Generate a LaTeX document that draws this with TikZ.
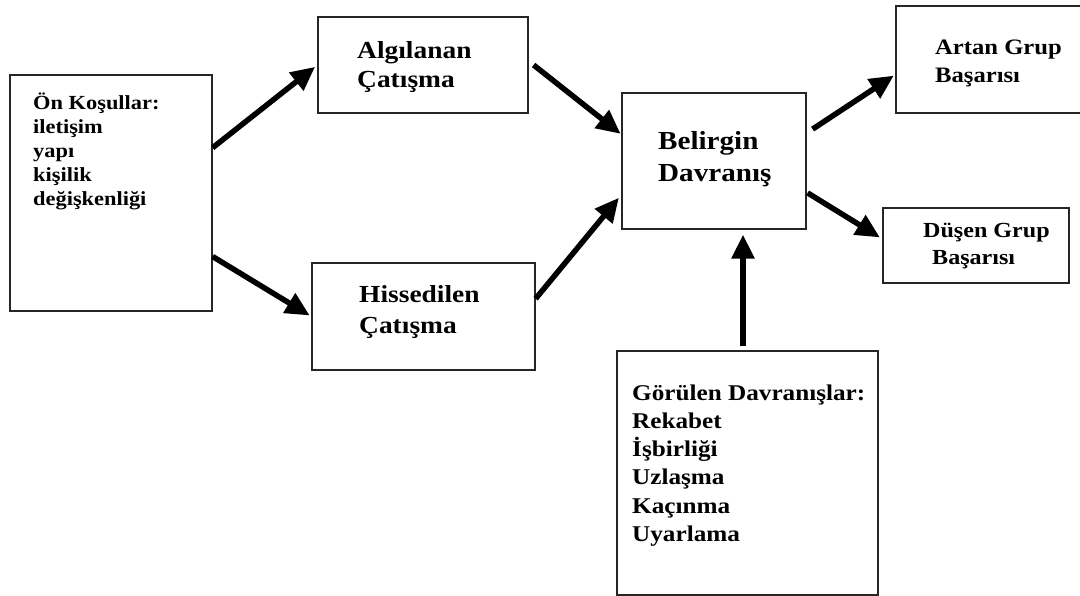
\documentclass[tikz,border=0pt]{standalone}
\usepackage{fontspec}
\setmainfont{Liberation Serif}[FakeStretch=1.12]
\usetikzlibrary{arrows.meta}
\newcommand\fsz[2]{\fontsize{#1}{#2}\selectfont\bfseries}

\begin{document}
\begin{tikzpicture}[x=1pt,y=-1pt,
box/.style={draw=black!85,line width=1.2pt,inner sep=0pt},
txt/.style={align=left,inner sep=0pt,anchor=base west},
flow/.style={line width=5.5pt,-{Triangle[length=24pt,width=22pt]}}]
\useasboundingbox (0,0) rectangle (1080,596);
\node[box,minimum width=202,minimum height=236] (cond) at (111,193) {};
\node[box,minimum width=210,minimum height=96] (perc) at (423,65) {};
\node[box,minimum width=223,minimum height=107] (felt) at (423.5,316.5) {};
\node[box,minimum width=184,minimum height=136] (overt) at (714,161) {};
\node[box,minimum width=189,minimum height=107] (high) at (990.5,59.5) {};
\node[box,minimum width=186,minimum height=75] (low) at (976,245.5) {};
\node[box,minimum width=261,minimum height=244] (styles) at (747.5,473) {};
\node[txt,font=\fsz{20}{24}] (condtxt) at (33,206)
  {Ön Koşullar:\\iletişim\\yapı\\kişilik\\değişkenliği};
\node[txt,font=\fsz{24.5}{29}] (perctxt) at (357,88) {Algılanan\\Çatışma};
\node[txt,font=\fsz{24.5}{31}] (felttxt) at (359,334) {Hissedilen\\Çatışma};
\node[txt,font=\fsz{26}{32}] (overttxt) at (658,182) {Belirgin\\Davranış};
\node[txt,font=\fsz{22}{28}] (hightxt) at (935,83) {Artan Grup\\Başarısı};
\node[txt,font=\fsz{21.5}{27}] (lowtxt) at (923,265) {Düşen Grup\\\hspace{9pt}Başarısı};
\node[txt,font=\fsz{22.5}{28.3}] (stylestxt) at (632,541.5)
  {Görülen Davranışlar:\\Rekabet\\İşbirliği\\Uzlaşma\\Kaçınma\\Uyarlama};
\draw[flow,shorten >=3pt] (cond.24) -- (perc.west);
\draw[flow,shorten >=2pt] (cond.-32) -- (felt.west);
\draw[flow,shorten >=1pt] ([xshift=5pt]perc.east) -- (overt.164);
\draw[flow,shorten >=4pt] (felt.9) -- (overt.200);
\draw[flow,shorten >=2pt] ([xshift=6pt]overt.19) -- (high.189);
\draw[flow,shorten >=3pt] ([xshift=1pt]overt.-19) -- (low.176);
\draw[flow,shorten <=4pt,shorten >=5pt] ([xshift=-4.5pt]styles.north) -- ([xshift=-4.5pt]styles.north |- overt.south);
\end{tikzpicture}
\end{document}
